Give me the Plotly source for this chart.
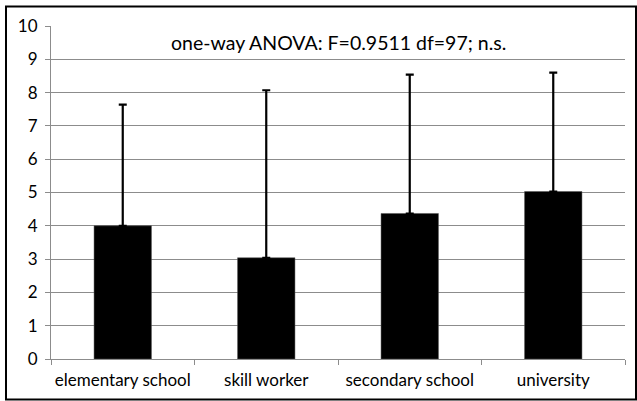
import plotly.graph_objects as go

# Mean score per education level with the upper standard deviation
categories = ["elementary school", "skill worker", "secondary school", "university"]
means = [4.0, 3.04, 4.37, 5.03]
sd_upper = [3.64, 5.03, 4.17, 3.57]
sd_lower = [0, 0, 0, 0]
y_ticks = list(range(0, 11))
note = "one-way ANOVA: F=0.9511 df=97; n.s."

W, H = 637, 401
ml, mr, mt, mb = 51, 12, 26, 42
pw, ph = W - ml - mr, H - mt - mb

def px_to_paper(x, y):
    return (x - ml) / pw, (H - mb - y) / ph

fig = go.Figure(
    go.Bar(
        x=categories,
        y=means,
        marker=dict(color="black", line=dict(color="#555555", width=0.5)),
        error_y=dict(
            type="data",
            symmetric=False,
            array=sd_upper,
            arrayminus=sd_lower,
            color="black",
            thickness=2.2,
            width=4,
        ),
        width=0.4,
    )
)

font_family = "Lato, Carlito, 'Liberation Sans', sans-serif"

fig.add_annotation(
    x=0.5, xref="paper",
    y=9.5, yref="y",
    text=note,
    showarrow=False,
    font=dict(family=font_family, size=19.5, color="black"),
)

# outer frame around the whole chart
x0, y0 = px_to_paper(6, 6.5)
x1, y1 = px_to_paper(636, 399.5)
fig.add_shape(
    type="rect", xref="paper", yref="paper",
    x0=x0, y0=y1, x1=x1, y1=y0,
    line=dict(color="black", width=2),
)

fig.update_layout(
    width=W, height=H,
    margin=dict(l=ml, r=mr, t=mt, b=mb, autoexpand=False),
    paper_bgcolor="white",
    plot_bgcolor="white",
    showlegend=False,
    font=dict(family=font_family, size=17, color="black"),
    bargap=0.6,
)

fig.update_xaxes(
    showline=True, linecolor="#8c8c8c", linewidth=1,
    ticks="outside", ticklen=5, tickcolor="#8c8c8c",
    tickson="boundaries",
    tickfont=dict(size=17),
    tickangle=0,
    automargin=False,
    showgrid=False,
    ticklabelstandoff=6,
)

fig.update_yaxes(
    range=[0, 10],
    tickvals=y_ticks,
    showline=True, linecolor="#8c8c8c", linewidth=1,
    ticks="outside", ticklen=5, tickcolor="#8c8c8c",
    showgrid=True, gridcolor="#8c8c8c", gridwidth=1,
    zeroline=False,
    automargin=False,
    tickfont=dict(size=17),
    ticklabelstandoff=4,
)

fig.write_html("out.html")
